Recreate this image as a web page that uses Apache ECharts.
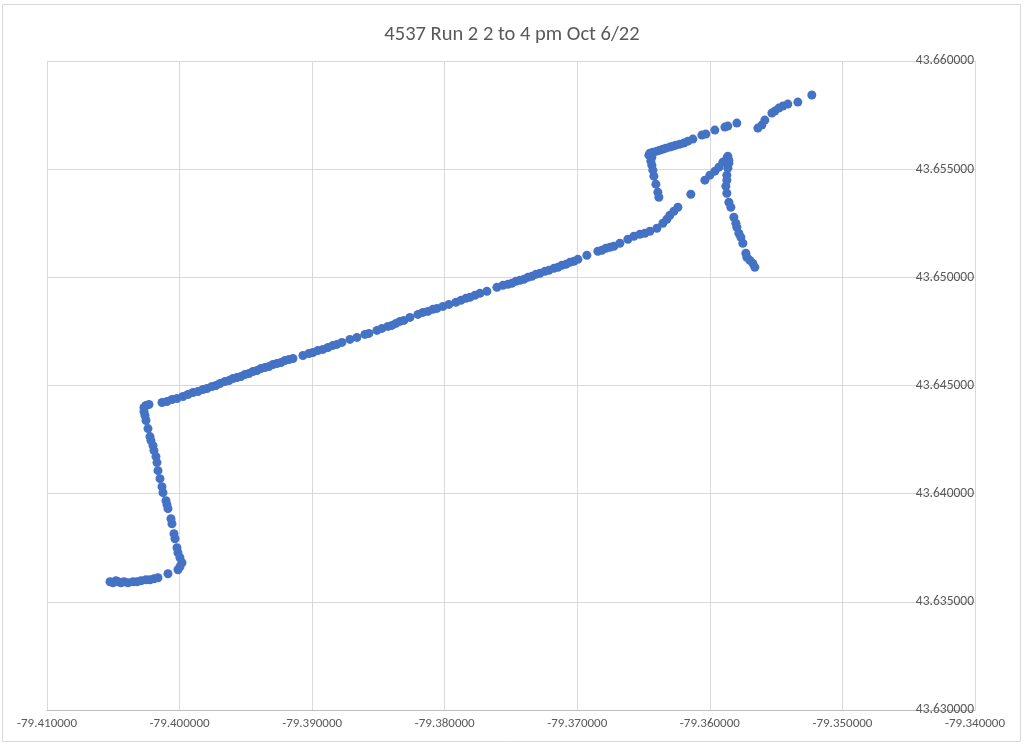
<!DOCTYPE html>
<html>
<head>
<meta charset="utf-8">
<script src="https://cdn.jsdelivr.net/npm/echarts@6/dist/echarts.min.js"></script>
<style>html,body{margin:0;padding:0;background:#fff}#c{width:1024px;height:746px}</style>
</head>
<body>
<div id="c"></div>
<script>
var chartTitle = '4537 Run 2 2 to 4 pm Oct 6/22';
var xTicks = [-79.41, -79.40, -79.39, -79.38, -79.37, -79.36, -79.35, -79.34];
var yTicks = [43.630, 43.635, 43.640, 43.645, 43.650, 43.655, 43.660];

// Longitudes (x) of recorded positions
var lon = [
 // bottom-left cluster
 -79.405249,-79.405023,-79.404796,-79.404646,-79.404419,-79.404193,-79.403891,-79.403514,-79.403213,-79.402911,-79.402534,-79.402232,-79.401931,-79.401629,-79.400875,-79.400121,
 // westside northbound leg
 -79.399970,-79.399819,-79.399970,-79.400121,-79.400196,-79.400347,-79.400422,-79.400573,-79.400649,-79.400875,-79.400950,-79.401026,-79.401252,-79.401327,-79.401478,-79.401629,-79.401704,-79.401780,-79.401931,-79.402006,-79.402157,-79.402232,-79.402383,-79.402534,-79.402609,-79.402685,-79.402685,-79.402534,-79.402308,
 // long diagonal
 -79.401327,-79.400950,-79.400573,-79.400196,-79.399744,-79.399367,-79.398989,-79.398612,-79.398235,-79.397934,-79.397557,-79.397255,-79.396953,-79.396576,-79.396275,-79.395973,-79.395671,-79.395370,-79.395068,-79.394766,-79.394465,-79.394163,-79.393861,-79.393560,-79.393258,-79.392956,-79.392655,-79.392353,-79.392051,-79.391750,-79.391448,-79.390694,-79.390241,-79.389940,-79.389563,-79.389186,-79.388808,-79.388431,-79.388130,-79.387753,-79.387149,-79.386621,-79.386018,-79.385716,-79.385113,-79.384736,-79.384283,-79.383982,-79.383680,-79.383378,-79.383077,-79.382624,-79.382021,-79.381644,-79.381267,-79.380890,-79.380588,-79.380136,-79.379683,-79.379155,-79.378778,-79.378401,-79.378100,-79.377723,-79.377345,-79.376818,-79.376063,-79.375611,-79.375234,-79.374932,-79.374631,-79.374329,-79.374027,-79.373726,-79.373424,-79.373122,-79.372820,-79.372444,-79.372142,-79.371765,-79.371463,-79.371161,-79.370860,-79.370558,-79.370256,-79.369955,-79.369276,
 -79.368447,-79.368145,-79.367843,-79.367542,-79.367240,-79.366787,-79.366184,-79.365732,-79.365279,-79.364902,-79.364525,-79.363997,-79.363544,-79.363243,-79.363017,-79.362715,-79.362413,
 -79.361433,-79.360377,-79.360000,-79.359623,-79.359321,-79.359020,-79.358718,-79.358643,-79.358567,
 // east branch southbound
 -79.358567,-79.358643,-79.358718,-79.358718,-79.358794,-79.358718,-79.358567,-79.358416,-79.358190,-79.358039,-79.357964,-79.357813,-79.357662,-79.357511,-79.357285,-79.357210,-79.356983,-79.356757,-79.356606,
 // loop short leg
 -79.364374,-79.364450,-79.364374,-79.364299,-79.364223,-79.364072,-79.363922,-79.363846,
 // upper line
 -79.364601,-79.364525,-79.364299,-79.363997,-79.363771,-79.363544,-79.363318,-79.363017,-79.362791,-79.362564,-79.362262,-79.361961,-79.361659,-79.361282,-79.360604,-79.360302,-79.359623,-79.358869,-79.358643,-79.357964,
 // upper right
 -79.356380,-79.356079,-79.355852,-79.355324,-79.355098,-79.354797,-79.354495,-79.354118,-79.353364,-79.352308
];

// Latitudes (y) of recorded positions
var lat = [
 43.635926,43.635880,43.635972,43.635926,43.635880,43.635926,43.635880,43.635926,43.635926,43.635972,43.636019,43.636019,43.636065,43.636111,43.636296,43.636481,
 43.636620,43.636806,43.637037,43.637269,43.637500,43.637917,43.638148,43.638611,43.638843,43.639306,43.639491,43.639676,43.640046,43.640324,43.640694,43.641065,43.641435,43.641713,43.641991,43.642222,43.642454,43.642639,43.643009,43.643380,43.643611,43.643796,43.643981,43.644074,43.644120,
 43.644213,43.644259,43.644352,43.644398,43.644491,43.644583,43.644676,43.644722,43.644815,43.644861,43.644954,43.645000,43.645093,43.645185,43.645231,43.645324,43.645370,43.645417,43.645509,43.645556,43.645648,43.645694,43.645787,43.645833,43.645880,43.645972,43.646019,43.646065,43.646157,43.646204,43.646250,43.646389,43.646481,43.646528,43.646620,43.646667,43.646759,43.646852,43.646898,43.646991,43.647130,43.647222,43.647361,43.647407,43.647546,43.647639,43.647731,43.647778,43.647870,43.647963,43.648009,43.648148,43.648287,43.648380,43.648426,43.648519,43.648565,43.648657,43.648750,43.648843,43.648935,43.649028,43.649074,43.649167,43.649259,43.649352,43.649537,43.649630,43.649676,43.649722,43.649815,43.649861,43.649907,43.650000,43.650046,43.650139,43.650185,43.650278,43.650324,43.650417,43.650463,43.650556,43.650602,43.650694,43.650741,43.650833,43.651019,
 43.651204,43.651250,43.651343,43.651389,43.651435,43.651574,43.651759,43.651898,43.651991,43.652037,43.652130,43.652269,43.652500,43.652685,43.652870,43.653056,43.653241,
 43.653843,43.654491,43.654722,43.654907,43.655093,43.655324,43.655509,43.655602,43.655417,
 43.655278,43.655046,43.654722,43.654491,43.654213,43.653889,43.653472,43.653241,43.652778,43.652500,43.652315,43.652037,43.651852,43.651574,43.651111,43.650926,43.650787,43.650648,43.650463,
 43.655556,43.655370,43.655185,43.654954,43.654676,43.654306,43.653935,43.653704,
 43.655648,43.655741,43.655787,43.655833,43.655880,43.655926,43.655972,43.656019,43.656065,43.656111,43.656157,43.656204,43.656296,43.656389,43.656574,43.656620,43.656806,43.656944,43.656991,43.657130,
 43.656898,43.657037,43.657269,43.657593,43.657685,43.657824,43.657917,43.658009,43.658102,43.658426
];

var points = lon.map(function (x, i) { return [x, lat[i]]; });

var chart = echarts.init(document.getElementById('c'), null, { renderer: 'canvas' });
var labelFont = 'Carlito, "Liberation Sans Narrow", "Liberation Sans", sans-serif';
chart.setOption({
  animation: false,
  backgroundColor: '#ffffff',
  title: {
    text: chartTitle,
    left: 'center',
    top: 19,
    textStyle: { color: '#595959', fontSize: 20.5, fontWeight: 'normal', fontFamily: labelFont }
  },
  graphic: [{
    type: 'rect',
    shape: { x: 2.5, y: 4.5, width: 1018, height: 737 },
    style: { fill: 'none', stroke: '#d9d9d9', lineWidth: 1 },
    silent: true
  }],
  grid: { left: 47, right: 49, top: 61, bottom: 36 },
  xAxis: {
    type: 'value',
    min: xTicks[0],
    max: xTicks[xTicks.length - 1],
    interval: 0.01,
    axisLine: { show: true, lineStyle: { color: '#bfbfbf', width: 1 } },
    axisTick: { show: false },
    axisLabel: {
      color: '#595959', fontSize: 13, fontFamily: labelFont, margin: 7,
      formatter: function (v) { return v.toFixed(6); }
    },
    splitLine: { show: true, lineStyle: { color: '#d9d9d9', width: 1 } }
  },
  yAxis: {
    type: 'value',
    position: 'right',
    min: yTicks[0],
    max: yTicks[yTicks.length - 1],
    interval: 0.005,
    axisLine: { show: false },
    axisTick: { show: false },
    axisLabel: {
      inside: true, color: '#595959', fontSize: 13.5, fontFamily: labelFont, margin: 1,
      formatter: function (v) { return v.toFixed(6); }
    },
    splitLine: { show: true, lineStyle: { color: '#d9d9d9', width: 1 } }
  },
  series: [{
    type: 'scatter',
    data: points,
    symbol: 'circle',
    symbolSize: 9,
    itemStyle: { color: '#4472C4', opacity: 1 }
  }]
});
</script>
</body>
</html>
